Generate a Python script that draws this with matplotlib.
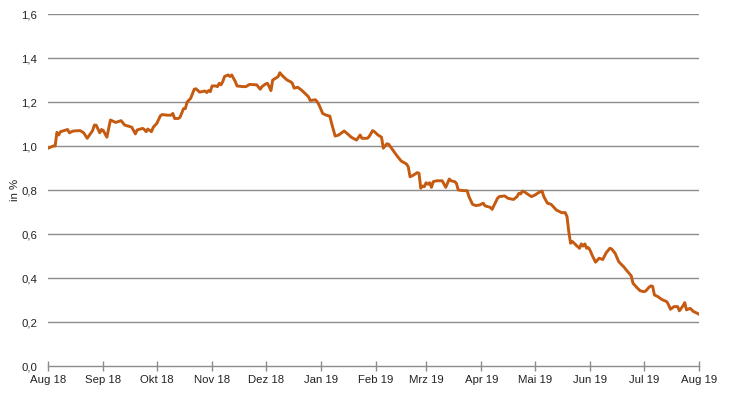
import matplotlib
matplotlib.use("Agg")
import matplotlib.pyplot as plt
import pandas as pd

# values (in %)
dates = [
    "2018-08-01", "2018-08-04", "2018-08-05", "2018-08-06", "2018-08-07", "2018-08-08",
    "2018-08-10", "2018-08-12", "2018-08-13", "2018-08-15", "2018-08-19", "2018-08-21",
    "2018-08-23", "2018-08-26", "2018-08-27", "2018-08-28", "2018-08-30", "2018-08-31",
    "2018-09-01", "2018-09-03", "2018-09-05", "2018-09-08", "2018-09-09", "2018-09-11",
    "2018-09-13", "2018-09-16", "2018-09-17", "2018-09-19", "2018-09-20", "2018-09-23",
    "2018-09-24", "2018-09-25", "2018-09-26", "2018-09-28", "2018-09-29",
    "2018-10-01", "2018-10-03", "2018-10-04", "2018-10-07", "2018-10-09", "2018-10-10",
    "2018-10-11", "2018-10-13", "2018-10-14", "2018-10-16", "2018-10-17", "2018-10-18",
    "2018-10-20", "2018-10-22", "2018-10-23", "2018-10-25", "2018-10-27", "2018-10-28",
    "2018-10-29", "2018-10-30", "2018-10-31",
    "2018-11-01", "2018-11-03", "2018-11-04", "2018-11-05", "2018-11-06", "2018-11-07",
    "2018-11-08", "2018-11-10", "2018-11-11", "2018-11-12", "2018-11-14", "2018-11-15",
    "2018-11-18", "2018-11-20", "2018-11-22", "2018-11-26", "2018-11-28", "2018-11-29",
    "2018-12-01", "2018-12-02", "2018-12-03", "2018-12-04", "2018-12-05", "2018-12-08",
    "2018-12-09", "2018-12-10", "2018-12-11", "2018-12-13", "2018-12-15", "2018-12-16",
    "2018-12-17", "2018-12-19", "2018-12-21", "2018-12-23", "2018-12-25", "2018-12-26",
    "2018-12-29", "2018-12-30", "2018-12-31",
    "2019-01-02", "2019-01-04", "2019-01-06", "2019-01-07", "2019-01-09", "2019-01-11",
    "2019-01-14", "2019-01-16", "2019-01-18", "2019-01-21", "2019-01-23", "2019-01-24",
    "2019-01-27", "2019-01-28", "2019-01-30", "2019-01-31",
    "2019-02-02", "2019-02-04", "2019-02-05", "2019-02-07", "2019-02-08", "2019-02-09",
    "2019-02-11", "2019-02-13", "2019-02-15", "2019-02-18", "2019-02-19", "2019-02-20",
    "2019-02-22", "2019-02-24", "2019-02-25", "2019-02-26", "2019-02-27", "2019-02-28",
    "2019-03-01", "2019-03-02", "2019-03-03", "2019-03-04", "2019-03-05", "2019-03-07",
    "2019-03-10", "2019-03-12", "2019-03-14", "2019-03-15", "2019-03-17", "2019-03-18",
    "2019-03-19", "2019-03-22", "2019-03-24", "2019-03-25", "2019-03-27", "2019-03-29",
    "2019-03-31",
    "2019-04-02", "2019-04-03", "2019-04-06", "2019-04-07", "2019-04-10", "2019-04-11",
    "2019-04-14", "2019-04-16", "2019-04-19", "2019-04-21", "2019-04-22", "2019-04-23",
    "2019-04-24", "2019-04-25", "2019-04-29",
    "2019-05-01", "2019-05-03", "2019-05-05", "2019-05-06", "2019-05-08", "2019-05-10",
    "2019-05-11", "2019-05-13", "2019-05-15", "2019-05-16", "2019-05-18", "2019-05-19",
    "2019-05-20", "2019-05-21", "2019-05-22", "2019-05-24", "2019-05-26", "2019-05-27",
    "2019-05-28", "2019-05-29", "2019-05-30", "2019-05-31",
    "2019-06-01", "2019-06-02", "2019-06-04", "2019-06-06", "2019-06-08", "2019-06-10",
    "2019-06-12", "2019-06-13", "2019-06-15", "2019-06-17", "2019-06-20", "2019-06-22",
    "2019-06-24", "2019-06-25", "2019-06-27", "2019-06-29",
    "2019-07-01", "2019-07-02", "2019-07-04", "2019-07-05", "2019-07-06", "2019-07-07",
    "2019-07-09", "2019-07-11", "2019-07-14", "2019-07-15", "2019-07-16", "2019-07-18",
    "2019-07-20", "2019-07-21", "2019-07-23", "2019-07-24", "2019-07-25", "2019-07-27",
    "2019-07-29", "2019-07-31", "2019-08-01",
]
values = [
    0.99, 1.00, 1.00, 1.062, 1.05, 1.065,
    1.07, 1.075, 1.06, 1.068, 1.07, 1.06,
    1.035, 1.07, 1.095, 1.095, 1.06, 1.075,
    1.07, 1.04, 1.118, 1.107, 1.11, 1.115,
    1.095, 1.088, 1.085, 1.055, 1.073, 1.08,
    1.075, 1.065, 1.077, 1.065, 1.085,
    1.103, 1.137, 1.143, 1.14, 1.14, 1.148,
    1.125, 1.125, 1.13, 1.17, 1.17, 1.20,
    1.217, 1.258, 1.26, 1.245, 1.248, 1.25,
    1.243, 1.252, 1.247,
    1.273, 1.273, 1.27, 1.285, 1.278, 1.293,
    1.316, 1.323, 1.316, 1.323, 1.293, 1.273,
    1.27, 1.27, 1.28, 1.278, 1.258, 1.27,
    1.282, 1.285, 1.27, 1.252, 1.30, 1.315,
    1.333, 1.323, 1.315, 1.30, 1.292, 1.285,
    1.263, 1.267, 1.255, 1.24, 1.224, 1.207,
    1.21, 1.20, 1.186,
    1.148, 1.14, 1.136, 1.103, 1.045, 1.05,
    1.068, 1.055, 1.04, 1.027, 1.05, 1.035,
    1.035, 1.042, 1.07, 1.065,
    1.05, 1.04, 0.99, 1.01, 1.008, 0.997,
    0.974, 0.952, 0.932, 0.918, 0.905, 0.86,
    0.868, 0.879, 0.876, 0.808, 0.818, 0.815,
    0.833, 0.826, 0.833, 0.812, 0.838, 0.842,
    0.842, 0.812, 0.85, 0.842, 0.838, 0.83,
    0.80, 0.797, 0.797, 0.77, 0.735, 0.729,
    0.732,
    0.74, 0.728, 0.721, 0.712, 0.762, 0.77,
    0.773, 0.762, 0.757, 0.77, 0.785, 0.782,
    0.795, 0.792, 0.77,
    0.777, 0.788, 0.795, 0.77, 0.74, 0.735,
    0.727, 0.709, 0.701, 0.697, 0.697, 0.679,
    0.61, 0.558, 0.566, 0.55, 0.535, 0.555,
    0.545, 0.555, 0.535, 0.538,
    0.525, 0.505, 0.472, 0.49, 0.484, 0.515,
    0.535, 0.532, 0.512, 0.474, 0.449, 0.429,
    0.41, 0.376, 0.358, 0.342,
    0.338, 0.34, 0.358, 0.364, 0.362, 0.323,
    0.315, 0.303, 0.292, 0.277, 0.258, 0.27,
    0.27, 0.251, 0.273, 0.288, 0.255, 0.262,
    0.247, 0.24, 0.235,
]
month_labels = ["Aug 18", "Sep 18", "Okt 18", "Nov 18", "Dez 18", "Jan 19", "Feb 19",
                "Mrz 19", "Apr 19", "Mai 19", "Jun 19", "Jul 19", "Aug 19"]
y_ticks = [0.0, 0.2, 0.4, 0.6, 0.8, 1.0, 1.2, 1.4, 1.6]

plt.rcParams['font.family'] = ['Liberation Sans', 'DejaVu Sans']

fig = plt.figure(figsize=(7.30, 3.98), dpi=100)
ax = fig.add_axes([48 / 730, 32 / 398, 651 / 730, 352 / 398])

x = pd.to_datetime(dates)
ax.plot(x, values, color='#C55A11', linewidth=2.1, solid_joinstyle='round')

month_ticks = pd.date_range("2018-08-01", "2019-08-01", freq="MS")
ax.set_xlim(month_ticks[0], month_ticks[-1])
ax.set_xticks(month_ticks)
ax.set_xticklabels(month_labels)
ax.set_ylim(0, 1.6)
ax.set_yticks(y_ticks)
ax.set_yticklabels([f"{v:.1f}".replace(".", ",") for v in y_ticks])

for v in y_ticks[1:]:
    ax.axhline(v, color='#8c8c8c', linewidth=1.0, zorder=0)

for s in ['top', 'right', 'left']:
    ax.spines[s].set_visible(False)
ax.spines['bottom'].set_color('#8c8c8c')
ax.spines['bottom'].set_linewidth(1.0)

ax.tick_params(axis='x', direction='inout', length=7, width=1.0, color='#8c8c8c',
               labelsize=8.2, labelcolor='#222222', pad=3)
ax.tick_params(axis='y', length=0, labelsize=8.2, labelcolor='#222222', pad=8)
ax.set_ylabel("in %", fontsize=8.2, color='#222222', labelpad=1)

fig.savefig("out.png", dpi=100)
